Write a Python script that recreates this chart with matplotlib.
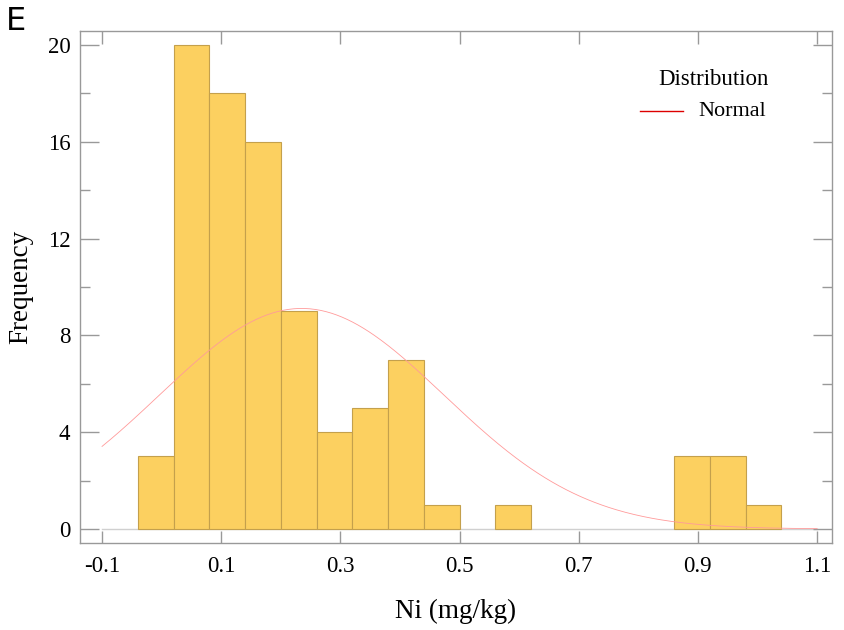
import numpy as np
import matplotlib
matplotlib.use("Agg")
import matplotlib.pyplot as plt
from matplotlib.ticker import MultipleLocator, FixedLocator

plt.rcParams['font.family'] = ['Liberation Serif', 'DejaVu Serif']

bin_edges = [-0.04, 0.02, 0.08, 0.14, 0.20, 0.26, 0.32, 0.38, 0.44, 0.50,
             0.56, 0.62, 0.68, 0.74, 0.80, 0.86, 0.92, 0.98, 1.04]
counts = [3, 20, 18, 16, 9, 4, 5, 7, 1, 0, 1, 0, 0, 0, 0, 3, 3, 1]
norm_mean = 0.235
norm_sd = 0.239
x_ticks = [-0.1, 0.1, 0.3, 0.5, 0.7, 0.9, 1.1]
y_ticks = [0, 4, 8, 12, 16, 20]

fig = plt.figure(figsize=(8.44, 6.30), dpi=100)
ax = fig.add_axes([80/844, 1-543/630, (832-80)/844, (543-31)/630])

edges = np.array(bin_edges)
widths = np.diff(edges)
cnt = np.array(counts)
mask = cnt > 0
ax.bar(edges[:-1][mask], cnt[mask], width=widths[mask], align='edge',
       color='#FCD060', edgecolor='#C4A04C', linewidth=0.8, zorder=2)

# baseline
ax.plot([-0.1, 1.1], [0, 0], color='#d0d0d0', lw=1, zorder=1)

# normal curve
N = cnt.sum()
w = widths[0]
xs = np.linspace(-0.1, 1.1, 400)
ys = N * w / (norm_sd * np.sqrt(2*np.pi)) * np.exp(-(xs - norm_mean)**2 / (2*norm_sd**2))
ax.plot(xs, ys, color='#ff9a9a', lw=0.6, zorder=3)

ax.set_xlim(-0.137, 1.125)
ax.set_ylim(-0.58, 20.58)
ax.xaxis.set_major_locator(FixedLocator(x_ticks))
ax.set_xticklabels([f"{v:g}" for v in x_ticks])
ax.yaxis.set_major_locator(FixedLocator(y_ticks))
ax.yaxis.set_minor_locator(MultipleLocator(2))

for s in ax.spines.values():
    s.set_color('#999999')
    s.set_linewidth(1)

ax.tick_params(axis='both', which='major', direction='in', color='#999999',
               top=True, right=True, labelsize=16.5, length=14, width=1, pad=7)
ax.tick_params(axis='x', which='major', length=9, pad=9)
ax.tick_params(axis='y', which='minor', direction='in', color='#999999',
               right=True, length=7, width=1)

ax.set_xlabel('Ni (mg/kg)', fontsize=19.5, labelpad=16)
ax.set_ylabel('Frequency', fontsize=19.5, labelpad=10)

ax.text(0.843, 0.905, 'Distribution', transform=ax.transAxes, fontsize=16.5,
        ha='center', va='center')
ax.plot([0.745, 0.802], [0.843, 0.843], transform=ax.transAxes,
        color='#dd0000', lw=1.0)
ax.text(0.822, 0.843, 'Normal', transform=ax.transAxes, fontsize=16,
        ha='left', va='center')

fig.text(6/844, 1-22/630, 'E', fontsize=23, family='DejaVu Sans',
         ha='left', va='center')

fig.savefig('out.png', dpi=100)
